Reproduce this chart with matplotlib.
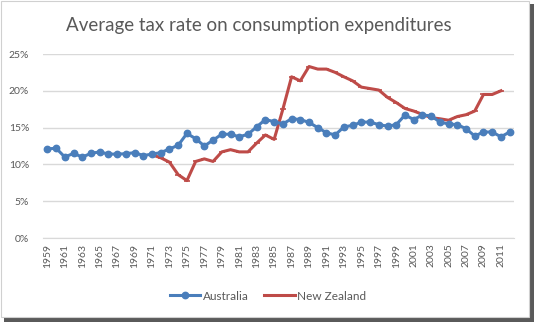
import matplotlib
matplotlib.use("Agg")
import matplotlib.pyplot as plt
from matplotlib.patches import Rectangle
from matplotlib.ticker import PercentFormatter

years = list(range(1959, 2013))
australia = [12.1, 12.2, 11.0, 11.5, 11.0, 11.5, 11.7, 11.4, 11.4, 11.45, 11.6, 11.2,
             11.4, 11.6, 12.1, 12.6, 14.2, 13.5, 12.5, 13.3, 14.1, 14.1, 13.75, 14.1,
             15.1, 16.1, 15.8, 15.5, 16.2, 16.1, 15.7, 15.0, 14.3, 14.0, 15.1, 15.3,
             15.75, 15.75, 15.4, 15.2, 15.4, 16.7, 16.1, 16.7, 16.6, 15.75, 15.5, 15.4,
             14.85, 13.85, 14.4, 14.4, 13.75, 14.4]
nz_years = list(range(1971, 2012))
new_zealand = [11.3, 10.9, 10.3, 8.6, 7.8, 10.4, 10.75, 10.4, 11.7, 12.0, 11.7, 11.7,
               12.9, 14.0, 13.4, 17.5, 21.9, 21.35, 23.3, 22.95, 22.95, 22.5, 21.9, 21.35,
               20.5, 20.3, 20.1, 19.1, 18.4, 17.6, 17.25, 16.8, 16.35, 16.2, 16.0, 16.5,
               16.75, 17.25, 19.5, 19.5, 20.0]
tick_years = [str(y) for y in range(1959, 2013, 2)]

plt.rcParams['font.family'] = ['Lato', 'DejaVu Sans']

W, H = 534, 322
fig = plt.figure(figsize=(W / 100, H / 100), dpi=100)
fig.patch.set_facecolor('white')

# frame and shadow
fig.add_artist(Rectangle((529 / W, 0), 5 / W, 1 - 4 / H, transform=fig.transFigure,
                         facecolor='#5a5a5a', edgecolor='none'))
fig.add_artist(Rectangle((4 / W, 0), 1 - 4 / W, 5 / H, transform=fig.transFigure,
                         facecolor='#5a5a5a', edgecolor='none'))
fig.add_artist(Rectangle((0.5 / W, 5.5 / H), 528 / W, 316 / H, transform=fig.transFigure,
                         facecolor='none', edgecolor='#d0d0d0', linewidth=0.8))

ax = fig.add_axes([43 / W, 1 - 238 / H, (514 - 43) / W, (238 - 54) / H])

idx = {y: i for i, y in enumerate(years)}
ax.plot([idx[y] for y in years], australia, color='#4a7ebb', linewidth=2.2,
        marker='o', markersize=4.6, label='Australia', zorder=3)
ax.plot([idx[y] for y in nz_years], new_zealand, color='#be4b48', linewidth=2.2,
        marker='_', markersize=4, markeredgewidth=1.2, label='New Zealand', zorder=2)

ax.set_xlim(-0.5, len(years) - 0.5)
ax.set_ylim(0, 25)
ax.set_yticks([0, 5, 10, 15, 20, 25])
ax.yaxis.set_major_formatter(PercentFormatter(decimals=0))
ax.set_xticks(list(range(0, len(years), 2)))
ax.set_xticklabels(tick_years, rotation=90)
ax.grid(axis='y', color='#d9d9d9', linewidth=1)
ax.set_axisbelow(True)
for s in ['top', 'right', 'left']:
    ax.spines[s].set_visible(False)
ax.spines['bottom'].set_color('#d9d9d9')
ax.tick_params(axis='both', length=0, labelsize=7.5, colors='#595959')
ax.tick_params(axis='y', pad=10)
ax.tick_params(axis='x', pad=4)

fig.text(259 / W, 1 - 25 / H, 'Average tax rate on consumption expenditures',
         ha='center', va='center', fontsize=13.5, color='#595959')

leg = fig.legend(loc='center', bbox_to_anchor=(268 / W, 1 - 296 / H), ncol=2,
                 frameon=False, fontsize=8.5, handlelength=2.6, columnspacing=1.3,
                 handletextpad=0.2, labelcolor='#595959')

fig.savefig('out.png', dpi=100, facecolor='white')
